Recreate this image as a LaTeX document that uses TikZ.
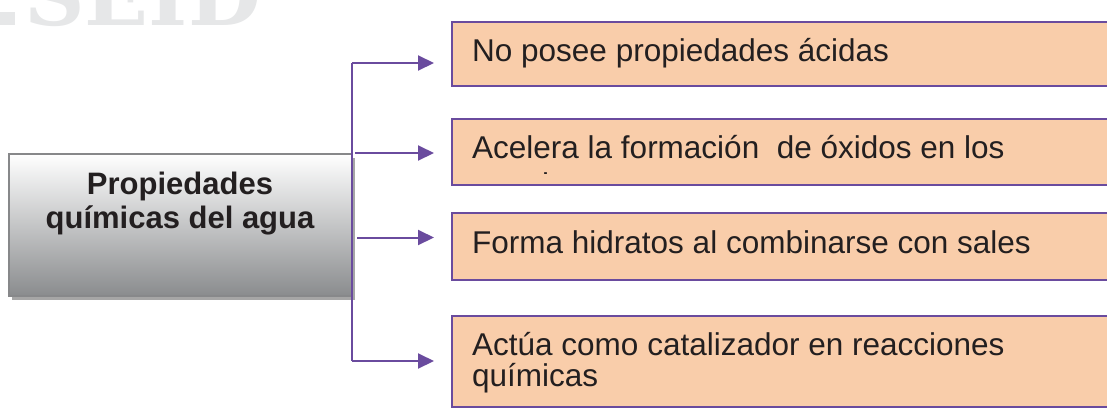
\documentclass[tikz,border=0pt]{standalone}
\usepackage{fontspec}
\setmainfont{Liberation Sans}
\newfontfamily\wmfont{DejaVu Serif}
\usetikzlibrary{arrows.meta}
\definecolor{peach}{RGB}{249,205,170}
\definecolor{purp}{RGB}{106,75,158}
\definecolor{txt}{RGB}{35,31,32}
\definecolor{wm}{RGB}{230,231,232}
\definecolor{gbot}{RGB}{138,140,142}
\definecolor{gborder}{RGB}{135,136,138}
\tikzset{
  propbox/.style={draw=purp, line width=2.2pt, fill=peach, rectangle, inner sep=0pt, anchor=north west, minimum width=700pt},
  proptext/.style={anchor=base west, inner sep=0pt, text=txt, font=\fontsize{31.5}{36}\selectfont},
  mainbox/.style={draw=gborder, line width=1.5pt, rectangle, top color=white, bottom color=gbot, inner sep=0pt, anchor=north west},
  maintext/.style={anchor=base, inner sep=0pt, text=txt, font=\bfseries\fontsize{31}{36}\selectfont},
  conn/.style={draw=purp, line width=2pt},
  arr/.style={conn, -{Triangle[length=16pt, width=15pt]}},
}
\begin{document}
\begin{tikzpicture}[x=1pt, y=-1pt]
\useasboundingbox (0,0) rectangle (1107,408);
% watermark fragment
\begin{scope}
  \clip (0,0) rectangle (1107,408);
  \fill[wm] (0,12) rectangle (15,25);
  \node[anchor=base west, inner sep=0pt, text=wm, font=\wmfont\bfseries\fontsize{84}{90}\selectfont] (wmk) at (24,25) {SEID};
\end{scope}
% main box with shadow
\fill[gray!70] (12,158) rectangle (355,300);
\node[mainbox, minimum width=343pt, minimum height=142pt] (m) at (8,153) {};
\node[maintext] (m1) at (180,194) {Propiedades};
\node[maintext] (m2) at (180,228) {químicas del agua};
% right boxes
\node[propbox, minimum height=64pt] (b1) at (451,21) {};
\node[propbox, minimum height=66pt] (b2) at (451,118) {};
\node[propbox, minimum height=67pt] (b3) at (451,212) {};
\node[propbox, minimum height=91pt] (b4) at (451,315) {};
\node[proptext] (t1) at (472,61.5) {No posee propiedades ácidas};
\node[proptext] (t2) at (472,158.3) {Acelera la formación \ de óxidos en los};
\begin{scope}
  \clip (452,119) rectangle (1107,173.8);
  \node[proptext] (t2b) at (472,195) {metales};
\end{scope}
\node[proptext] (t3) at (472,253.5) {Forma hidratos al combinarse con sales};
\node[proptext] (t4a) at (472,355) {Actúa como catalizador en reacciones};
\node[proptext] (t4b) at (472,386) {químicas};
% connectors
\coordinate (top) at (352,63);
\coordinate (bot) at (352,361);
\coordinate (s2) at (355,153);
\coordinate (s3) at (357,237.5);
\coordinate (e1) at (434,63);
\coordinate (e2) at (434,153);
\coordinate (e3) at (434,237.5);
\coordinate (e4) at (434,361);
\draw[conn] (top) -- (bot);
\draw[arr] (top) -- (e1);
\draw[arr] (s2) -- (e2);
\draw[arr] (s3) -- (e3);
\draw[arr] (bot) -- (e4);
\end{tikzpicture}
\end{document}
